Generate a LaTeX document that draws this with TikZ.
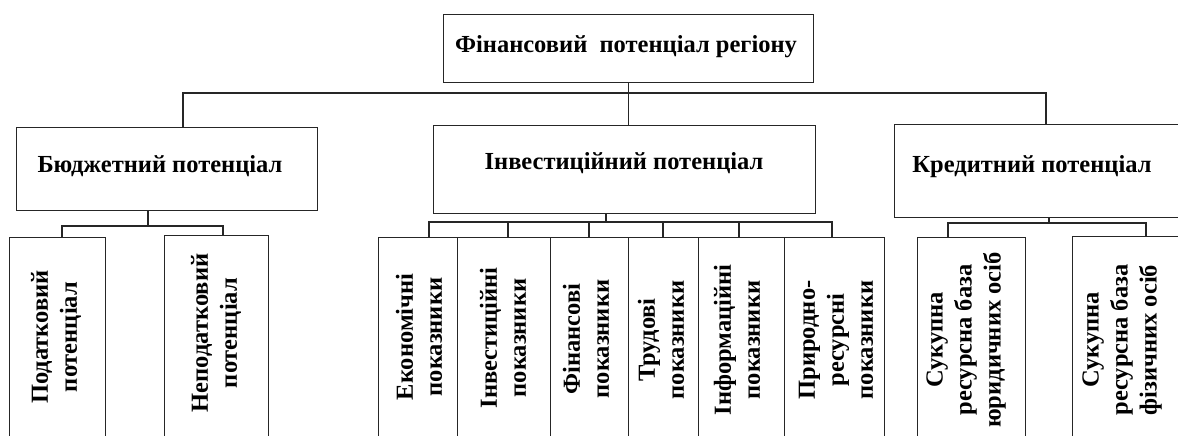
\documentclass[tikz,border=0pt]{standalone}
\usepackage{fontspec}
\setmainfont{Liberation Serif}
\begin{document}
\begin{tikzpicture}[x=1pt,y=-1pt,
  boxst/.style={draw=black!85, line width=1.2pt, inner sep=0pt, anchor=north west},
  htext/.style={font=\fontsize{24.5}{29}\selectfont\bfseries, inner sep=0pt, text=black},
  vtext/.style={font=\fontsize{24.5}{29}\selectfont\bfseries, inner sep=0pt, rotate=90, align=center, text=black},
  conn/.style={draw=black!85, line width=1.2pt}]
\useasboundingbox (0,0) rectangle (1178,436);
\clip (0,0) rectangle (1178,436);
% main boxes
\node[boxst, minimum width=370pt, minimum height=68pt] (top) at (443,14) {};
\node[boxst, minimum width=301pt, minimum height=83pt] (bud) at (16,127) {};
\node[boxst, minimum width=382pt, minimum height=88pt] (inv) at (433,125) {};
\node[boxst, minimum width=300pt, minimum height=93pt] (kred) at (894,124) {};
% main texts
\node[htext] (ttop) at (626,47) {Фінансовий\ \ потенціал регіону};
\node[htext] (tbud) at (160,166) {Бюджетний потенціал};
\node[htext] (tinv) at (624,163) {Інвестиційний потенціал};
\node[htext] (tkred) at (1032,167) {Кредитний потенціал};
% budget sub boxes
\node[boxst, minimum width=96pt, minimum height=210pt] (p1) at (9,237) {};
\node[boxst, minimum width=104pt, minimum height=212pt] (p2) at (164,235) {};
% investment sub boxes
\node[boxst, minimum width=79pt, minimum height=210pt] (i1) at (378,237) {};
\node[boxst, minimum width=93pt, minimum height=210pt] (i2) at (457,237) {};
\node[boxst, minimum width=78pt, minimum height=210pt] (i3) at (550,237) {};
\node[boxst, minimum width=70pt, minimum height=210pt] (i4) at (628,237) {};
\node[boxst, minimum width=86pt, minimum height=210pt] (i5) at (698,237) {};
\node[boxst, minimum width=100pt, minimum height=210pt] (i6) at (784,237) {};
% credit sub boxes
\node[boxst, minimum width=108pt, minimum height=210pt] (k1) at (917,237) {};
\node[boxst, minimum width=130pt, minimum height=211pt] (k2) at (1072,236) {};
% vertical texts
\node[vtext] (tp1) at (56,337) {Податковий\\потенціал};
\node[vtext] (tp2) at (216,333) {Неподатковий\\потенціал};
\node[vtext] (ti1) at (419,337) {Економічні\\показники};
\node[vtext] (ti2) at (503,338) {Інвестиційні\\показники};
\node[vtext] (ti3) at (586,339) {Фінансові\\показники};
\node[vtext] (ti4) at (661,340) {Трудові\\показники};
\node[vtext] (ti5) at (737,340) {Інформаційні\\показники};
\node[vtext] (ti6) at (836,340) {Природно-\\ресурсні\\показники};
\node[vtext] (tk1) at (966,340) {Сукупна\\ресурсна база\\юридичних осіб};
\node[vtext] (tk2) at (1122,340) {Сукупна\\ресурсна база\\фізичних осіб};
% top level connectors
\coordinate (busL) at (183,93);
\coordinate (busR) at (1046,93);
\draw[conn] (top.south) -- (top.south |- inv.north);
\draw[conn] (busL |- bud.north) -- (busL) -- (busR) -- (busR |- kred.north);
% budget connectors
\coordinate (bdrop) at (148,226);
\coordinate (bL) at (62,226);
\coordinate (bR) at (223,226);
\draw[conn] (bdrop |- bud.south) -- (bdrop);
\draw[conn] (bL |- p1.north) -- (bL) -- (bR) -- (bR |- p2.north);
% investment connectors
\coordinate (idrop) at (606,222);
\coordinate (iL) at (429,222);
\coordinate (iR) at (832,222);
\draw[conn] (idrop |- inv.south) -- (idrop);
\draw[conn] (iL |- i1.north) -- (iL) -- (iR) -- (iR |- i6.north);
\draw[conn] (508,222) -- (508,0 |- i2.north);
\draw[conn] (589,222) -- (589,0 |- i3.north);
\draw[conn] (663,222) -- (663,0 |- i4.north);
\draw[conn] (739,222) -- (739,0 |- i5.north);
% credit connectors
\coordinate (kdrop) at (1049,223);
\coordinate (kL) at (948,223);
\coordinate (kR) at (1146,223);
\draw[conn] (kdrop |- kred.south) -- (kdrop);
\draw[conn] (kL |- k1.north) -- (kL) -- (kR) -- (kR |- k2.north);
\end{tikzpicture}
\end{document}
